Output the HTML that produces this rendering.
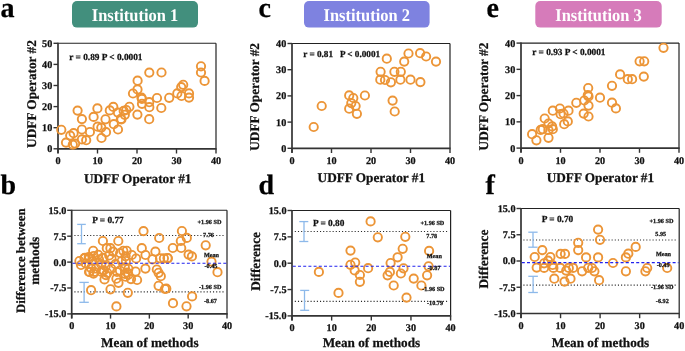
<!DOCTYPE html>
<html><head><meta charset="utf-8"><style>
html,body{margin:0;padding:0;background:#fff;}
svg{display:block;font-family:"Liberation Serif", serif;will-change:transform;text-rendering:geometricPrecision;}
</style></head><body>
<svg width="685" height="351" viewBox="0 0 685 351">
<rect width="685" height="351" fill="#fff"/>
<line x1="58.0" y1="148.8" x2="58.0" y2="153.5" stroke="#333" stroke-width="1.4" />
<line x1="97.5" y1="148.8" x2="97.5" y2="153.5" stroke="#333" stroke-width="1.4" />
<line x1="137.0" y1="148.8" x2="137.0" y2="153.5" stroke="#333" stroke-width="1.4" />
<line x1="176.5" y1="148.8" x2="176.5" y2="153.5" stroke="#333" stroke-width="1.4" />
<line x1="216.0" y1="148.8" x2="216.0" y2="153.5" stroke="#333" stroke-width="1.4" />
<line x1="53.5" y1="148.8" x2="58" y2="148.8" stroke="#333" stroke-width="1.4" />
<line x1="53.5" y1="127.7" x2="58" y2="127.7" stroke="#333" stroke-width="1.4" />
<line x1="53.5" y1="106.6" x2="58" y2="106.6" stroke="#333" stroke-width="1.4" />
<line x1="53.5" y1="85.5" x2="58" y2="85.5" stroke="#333" stroke-width="1.4" />
<line x1="53.5" y1="64.4" x2="58" y2="64.4" stroke="#333" stroke-width="1.4" />
<line x1="53.5" y1="43.3" x2="58" y2="43.3" stroke="#333" stroke-width="1.4" />
<line x1="58" y1="43.3" x2="216" y2="43.3" stroke="#222" stroke-width="1.1" />
<line x1="216" y1="43.3" x2="216" y2="148.8" stroke="#222" stroke-width="1.2" />
<line x1="58" y1="148.8" x2="216.6" y2="148.8" stroke="#333" stroke-width="1.7" />
<line x1="58" y1="42.8" x2="58" y2="153.3" stroke="#333" stroke-width="1.7" />
<text x="58.0" y="164.2" font-size="10.2" text-anchor="middle" fill="#111" stroke="#111" stroke-width="0.25" font-weight="bold" >0</text>
<text x="97.5" y="164.2" font-size="10.2" text-anchor="middle" fill="#111" stroke="#111" stroke-width="0.25" font-weight="bold" >10</text>
<text x="137.0" y="164.2" font-size="10.2" text-anchor="middle" fill="#111" stroke="#111" stroke-width="0.25" font-weight="bold" >20</text>
<text x="176.5" y="164.2" font-size="10.2" text-anchor="middle" fill="#111" stroke="#111" stroke-width="0.25" font-weight="bold" >30</text>
<text x="216.0" y="164.2" font-size="10.2" text-anchor="middle" fill="#111" stroke="#111" stroke-width="0.25" font-weight="bold" >40</text>
<text x="52.3" y="152.2" font-size="10.2" text-anchor="end" fill="#111" stroke="#111" stroke-width="0.25" font-weight="bold" >0</text>
<text x="52.3" y="131.1" font-size="10.2" text-anchor="end" fill="#111" stroke="#111" stroke-width="0.25" font-weight="bold" >10</text>
<text x="52.3" y="110.0" font-size="10.2" text-anchor="end" fill="#111" stroke="#111" stroke-width="0.25" font-weight="bold" >20</text>
<text x="52.3" y="88.9" font-size="10.2" text-anchor="end" fill="#111" stroke="#111" stroke-width="0.25" font-weight="bold" >30</text>
<text x="52.3" y="67.8" font-size="10.2" text-anchor="end" fill="#111" stroke="#111" stroke-width="0.25" font-weight="bold" >40</text>
<text x="52.3" y="46.7" font-size="10.2" text-anchor="end" fill="#111" stroke="#111" stroke-width="0.25" font-weight="bold" >50</text>
<line x1="292.0" y1="148.3" x2="292.0" y2="153.0" stroke="#333" stroke-width="1.4" />
<line x1="331.5" y1="148.3" x2="331.5" y2="153.0" stroke="#333" stroke-width="1.4" />
<line x1="371.0" y1="148.3" x2="371.0" y2="153.0" stroke="#333" stroke-width="1.4" />
<line x1="410.5" y1="148.3" x2="410.5" y2="153.0" stroke="#333" stroke-width="1.4" />
<line x1="450.0" y1="148.3" x2="450.0" y2="153.0" stroke="#333" stroke-width="1.4" />
<line x1="287.5" y1="148.3" x2="292" y2="148.3" stroke="#333" stroke-width="1.4" />
<line x1="287.5" y1="122.1" x2="292" y2="122.1" stroke="#333" stroke-width="1.4" />
<line x1="287.5" y1="95.9" x2="292" y2="95.9" stroke="#333" stroke-width="1.4" />
<line x1="287.5" y1="69.7" x2="292" y2="69.7" stroke="#333" stroke-width="1.4" />
<line x1="287.5" y1="43.5" x2="292" y2="43.5" stroke="#333" stroke-width="1.4" />
<line x1="292" y1="43.5" x2="450" y2="43.5" stroke="#222" stroke-width="1.1" />
<line x1="450" y1="43.5" x2="450" y2="148.3" stroke="#222" stroke-width="1.2" />
<line x1="292" y1="148.3" x2="450.6" y2="148.3" stroke="#333" stroke-width="1.7" />
<line x1="292" y1="43.0" x2="292" y2="152.8" stroke="#333" stroke-width="1.7" />
<text x="292.0" y="164.2" font-size="10.2" text-anchor="middle" fill="#111" stroke="#111" stroke-width="0.25" font-weight="bold" >0</text>
<text x="331.5" y="164.2" font-size="10.2" text-anchor="middle" fill="#111" stroke="#111" stroke-width="0.25" font-weight="bold" >10</text>
<text x="371.0" y="164.2" font-size="10.2" text-anchor="middle" fill="#111" stroke="#111" stroke-width="0.25" font-weight="bold" >20</text>
<text x="410.5" y="164.2" font-size="10.2" text-anchor="middle" fill="#111" stroke="#111" stroke-width="0.25" font-weight="bold" >30</text>
<text x="450.0" y="164.2" font-size="10.2" text-anchor="middle" fill="#111" stroke="#111" stroke-width="0.25" font-weight="bold" >40</text>
<text x="286.3" y="151.7" font-size="10.2" text-anchor="end" fill="#111" stroke="#111" stroke-width="0.25" font-weight="bold" >0</text>
<text x="286.3" y="125.5" font-size="10.2" text-anchor="end" fill="#111" stroke="#111" stroke-width="0.25" font-weight="bold" >10</text>
<text x="286.3" y="99.3" font-size="10.2" text-anchor="end" fill="#111" stroke="#111" stroke-width="0.25" font-weight="bold" >20</text>
<text x="286.3" y="73.1" font-size="10.2" text-anchor="end" fill="#111" stroke="#111" stroke-width="0.25" font-weight="bold" >30</text>
<text x="286.3" y="46.9" font-size="10.2" text-anchor="end" fill="#111" stroke="#111" stroke-width="0.25" font-weight="bold" >40</text>
<line x1="521.0" y1="148.1" x2="521.0" y2="152.8" stroke="#333" stroke-width="1.4" />
<line x1="560.5" y1="148.1" x2="560.5" y2="152.8" stroke="#333" stroke-width="1.4" />
<line x1="600.0" y1="148.1" x2="600.0" y2="152.8" stroke="#333" stroke-width="1.4" />
<line x1="639.5" y1="148.1" x2="639.5" y2="152.8" stroke="#333" stroke-width="1.4" />
<line x1="679.0" y1="148.1" x2="679.0" y2="152.8" stroke="#333" stroke-width="1.4" />
<line x1="516.5" y1="148.1" x2="521" y2="148.1" stroke="#333" stroke-width="1.4" />
<line x1="516.5" y1="121.85" x2="521" y2="121.85" stroke="#333" stroke-width="1.4" />
<line x1="516.5" y1="95.6" x2="521" y2="95.6" stroke="#333" stroke-width="1.4" />
<line x1="516.5" y1="69.35" x2="521" y2="69.35" stroke="#333" stroke-width="1.4" />
<line x1="516.5" y1="43.1" x2="521" y2="43.1" stroke="#333" stroke-width="1.4" />
<line x1="521" y1="43.1" x2="679" y2="43.1" stroke="#222" stroke-width="1.1" />
<line x1="679" y1="43.1" x2="679" y2="148.1" stroke="#222" stroke-width="1.2" />
<line x1="521" y1="148.1" x2="679.6" y2="148.1" stroke="#333" stroke-width="1.7" />
<line x1="521" y1="42.6" x2="521" y2="152.6" stroke="#333" stroke-width="1.7" />
<text x="521.0" y="164.2" font-size="10.2" text-anchor="middle" fill="#111" stroke="#111" stroke-width="0.25" font-weight="bold" >0</text>
<text x="560.5" y="164.2" font-size="10.2" text-anchor="middle" fill="#111" stroke="#111" stroke-width="0.25" font-weight="bold" >10</text>
<text x="600.0" y="164.2" font-size="10.2" text-anchor="middle" fill="#111" stroke="#111" stroke-width="0.25" font-weight="bold" >20</text>
<text x="639.5" y="164.2" font-size="10.2" text-anchor="middle" fill="#111" stroke="#111" stroke-width="0.25" font-weight="bold" >30</text>
<text x="679.0" y="164.2" font-size="10.2" text-anchor="middle" fill="#111" stroke="#111" stroke-width="0.25" font-weight="bold" >40</text>
<text x="515.3" y="151.5" font-size="10.2" text-anchor="end" fill="#111" stroke="#111" stroke-width="0.25" font-weight="bold" >0</text>
<text x="515.3" y="125.25" font-size="10.2" text-anchor="end" fill="#111" stroke="#111" stroke-width="0.25" font-weight="bold" >10</text>
<text x="515.3" y="99.0" font-size="10.2" text-anchor="end" fill="#111" stroke="#111" stroke-width="0.25" font-weight="bold" >20</text>
<text x="515.3" y="72.75" font-size="10.2" text-anchor="end" fill="#111" stroke="#111" stroke-width="0.25" font-weight="bold" >30</text>
<text x="515.3" y="46.5" font-size="10.2" text-anchor="end" fill="#111" stroke="#111" stroke-width="0.25" font-weight="bold" >40</text>
<line x1="71.7" y1="313.9" x2="71.7" y2="318.6" stroke="#333" stroke-width="1.4" />
<line x1="110.53" y1="313.9" x2="110.53" y2="318.6" stroke="#333" stroke-width="1.4" />
<line x1="149.35" y1="313.9" x2="149.35" y2="318.6" stroke="#333" stroke-width="1.4" />
<line x1="188.18" y1="313.9" x2="188.18" y2="318.6" stroke="#333" stroke-width="1.4" />
<line x1="227.0" y1="313.9" x2="227.0" y2="318.6" stroke="#333" stroke-width="1.4" />
<line x1="67.2" y1="313.9" x2="71.7" y2="313.9" stroke="#333" stroke-width="1.4" />
<line x1="67.2" y1="288.0" x2="71.7" y2="288.0" stroke="#333" stroke-width="1.4" />
<line x1="67.2" y1="262.1" x2="71.7" y2="262.1" stroke="#333" stroke-width="1.4" />
<line x1="67.2" y1="236.2" x2="71.7" y2="236.2" stroke="#333" stroke-width="1.4" />
<line x1="67.2" y1="210.3" x2="71.7" y2="210.3" stroke="#333" stroke-width="1.4" />
<line x1="71.7" y1="210.3" x2="227" y2="210.3" stroke="#222" stroke-width="1.1" />
<line x1="227" y1="210.3" x2="227" y2="313.9" stroke="#222" stroke-width="1.2" />
<line x1="71.7" y1="313.9" x2="227.6" y2="313.9" stroke="#333" stroke-width="1.7" />
<line x1="71.7" y1="209.8" x2="71.7" y2="318.4" stroke="#333" stroke-width="1.7" />
<text x="71.7" y="329.2" font-size="10.2" text-anchor="middle" fill="#111" stroke="#111" stroke-width="0.25" font-weight="bold" >0</text>
<text x="110.53" y="329.2" font-size="10.2" text-anchor="middle" fill="#111" stroke="#111" stroke-width="0.25" font-weight="bold" >10</text>
<text x="149.35" y="329.2" font-size="10.2" text-anchor="middle" fill="#111" stroke="#111" stroke-width="0.25" font-weight="bold" >20</text>
<text x="188.18" y="329.2" font-size="10.2" text-anchor="middle" fill="#111" stroke="#111" stroke-width="0.25" font-weight="bold" >30</text>
<text x="227.0" y="329.2" font-size="10.2" text-anchor="middle" fill="#111" stroke="#111" stroke-width="0.25" font-weight="bold" >40</text>
<text x="66.3" y="317.3" font-size="10.2" text-anchor="end" fill="#111" stroke="#111" stroke-width="0.25" font-weight="bold" >-15.0</text>
<text x="66.3" y="291.4" font-size="10.2" text-anchor="end" fill="#111" stroke="#111" stroke-width="0.25" font-weight="bold" >-7.5</text>
<text x="66.3" y="265.5" font-size="10.2" text-anchor="end" fill="#111" stroke="#111" stroke-width="0.25" font-weight="bold" >0.0</text>
<text x="66.3" y="239.6" font-size="10.2" text-anchor="end" fill="#111" stroke="#111" stroke-width="0.25" font-weight="bold" >7.5</text>
<text x="66.3" y="213.7" font-size="10.2" text-anchor="end" fill="#111" stroke="#111" stroke-width="0.25" font-weight="bold" >15.0</text>
<line x1="292.0" y1="315.9" x2="292.0" y2="320.6" stroke="#333" stroke-width="1.4" />
<line x1="331.65" y1="315.9" x2="331.65" y2="320.6" stroke="#333" stroke-width="1.4" />
<line x1="371.3" y1="315.9" x2="371.3" y2="320.6" stroke="#333" stroke-width="1.4" />
<line x1="410.95" y1="315.9" x2="410.95" y2="320.6" stroke="#333" stroke-width="1.4" />
<line x1="450.6" y1="315.9" x2="450.6" y2="320.6" stroke="#333" stroke-width="1.4" />
<line x1="287.5" y1="315.9" x2="292" y2="315.9" stroke="#333" stroke-width="1.4" />
<line x1="287.5" y1="289.55" x2="292" y2="289.55" stroke="#333" stroke-width="1.4" />
<line x1="287.5" y1="263.2" x2="292" y2="263.2" stroke="#333" stroke-width="1.4" />
<line x1="287.5" y1="236.85" x2="292" y2="236.85" stroke="#333" stroke-width="1.4" />
<line x1="287.5" y1="210.5" x2="292" y2="210.5" stroke="#333" stroke-width="1.4" />
<line x1="292" y1="210.5" x2="450.6" y2="210.5" stroke="#222" stroke-width="1.1" />
<line x1="450.6" y1="210.5" x2="450.6" y2="315.9" stroke="#222" stroke-width="1.2" />
<line x1="292" y1="315.9" x2="451.2" y2="315.9" stroke="#333" stroke-width="1.7" />
<line x1="292" y1="210.0" x2="292" y2="320.4" stroke="#333" stroke-width="1.7" />
<text x="292.0" y="331.2" font-size="10.2" text-anchor="middle" fill="#111" stroke="#111" stroke-width="0.25" font-weight="bold" >0</text>
<text x="331.65" y="331.2" font-size="10.2" text-anchor="middle" fill="#111" stroke="#111" stroke-width="0.25" font-weight="bold" >10</text>
<text x="371.3" y="331.2" font-size="10.2" text-anchor="middle" fill="#111" stroke="#111" stroke-width="0.25" font-weight="bold" >20</text>
<text x="410.95" y="331.2" font-size="10.2" text-anchor="middle" fill="#111" stroke="#111" stroke-width="0.25" font-weight="bold" >30</text>
<text x="450.6" y="331.2" font-size="10.2" text-anchor="middle" fill="#111" stroke="#111" stroke-width="0.25" font-weight="bold" >40</text>
<text x="286.5" y="319.3" font-size="10.2" text-anchor="end" fill="#111" stroke="#111" stroke-width="0.25" font-weight="bold" >-15.0</text>
<text x="286.5" y="292.95" font-size="10.2" text-anchor="end" fill="#111" stroke="#111" stroke-width="0.25" font-weight="bold" >-7.5</text>
<text x="286.5" y="266.6" font-size="10.2" text-anchor="end" fill="#111" stroke="#111" stroke-width="0.25" font-weight="bold" >0.0</text>
<text x="286.5" y="240.25" font-size="10.2" text-anchor="end" fill="#111" stroke="#111" stroke-width="0.25" font-weight="bold" >7.5</text>
<text x="286.5" y="213.9" font-size="10.2" text-anchor="end" fill="#111" stroke="#111" stroke-width="0.25" font-weight="bold" >15.0</text>
<line x1="521.0" y1="313.5" x2="521.0" y2="318.2" stroke="#333" stroke-width="1.4" />
<line x1="560.55" y1="313.5" x2="560.55" y2="318.2" stroke="#333" stroke-width="1.4" />
<line x1="600.1" y1="313.5" x2="600.1" y2="318.2" stroke="#333" stroke-width="1.4" />
<line x1="639.65" y1="313.5" x2="639.65" y2="318.2" stroke="#333" stroke-width="1.4" />
<line x1="679.2" y1="313.5" x2="679.2" y2="318.2" stroke="#333" stroke-width="1.4" />
<line x1="516.5" y1="313.5" x2="521" y2="313.5" stroke="#333" stroke-width="1.4" />
<line x1="516.5" y1="287.25" x2="521" y2="287.25" stroke="#333" stroke-width="1.4" />
<line x1="516.5" y1="261.0" x2="521" y2="261.0" stroke="#333" stroke-width="1.4" />
<line x1="516.5" y1="234.75" x2="521" y2="234.75" stroke="#333" stroke-width="1.4" />
<line x1="516.5" y1="208.5" x2="521" y2="208.5" stroke="#333" stroke-width="1.4" />
<line x1="521" y1="208.5" x2="679.2" y2="208.5" stroke="#222" stroke-width="1.1" />
<line x1="679.2" y1="208.5" x2="679.2" y2="313.5" stroke="#222" stroke-width="1.2" />
<line x1="521" y1="313.5" x2="679.8" y2="313.5" stroke="#333" stroke-width="1.7" />
<line x1="521" y1="208.0" x2="521" y2="318.0" stroke="#333" stroke-width="1.7" />
<text x="521.0" y="328.8" font-size="10.2" text-anchor="middle" fill="#111" stroke="#111" stroke-width="0.25" font-weight="bold" >0</text>
<text x="560.55" y="328.8" font-size="10.2" text-anchor="middle" fill="#111" stroke="#111" stroke-width="0.25" font-weight="bold" >10</text>
<text x="600.1" y="328.8" font-size="10.2" text-anchor="middle" fill="#111" stroke="#111" stroke-width="0.25" font-weight="bold" >20</text>
<text x="639.65" y="328.8" font-size="10.2" text-anchor="middle" fill="#111" stroke="#111" stroke-width="0.25" font-weight="bold" >30</text>
<text x="679.2" y="328.8" font-size="10.2" text-anchor="middle" fill="#111" stroke="#111" stroke-width="0.25" font-weight="bold" >40</text>
<text x="515.5" y="316.9" font-size="10.2" text-anchor="end" fill="#111" stroke="#111" stroke-width="0.25" font-weight="bold" >-15.0</text>
<text x="515.5" y="290.65" font-size="10.2" text-anchor="end" fill="#111" stroke="#111" stroke-width="0.25" font-weight="bold" >-7.5</text>
<text x="515.5" y="264.4" font-size="10.2" text-anchor="end" fill="#111" stroke="#111" stroke-width="0.25" font-weight="bold" >0.0</text>
<text x="515.5" y="238.15" font-size="10.2" text-anchor="end" fill="#111" stroke="#111" stroke-width="0.25" font-weight="bold" >7.5</text>
<text x="515.5" y="211.9" font-size="10.2" text-anchor="end" fill="#111" stroke="#111" stroke-width="0.25" font-weight="bold" >15.0</text>
<rect x="72" y="1" width="126" height="26.6" rx="5" fill="#428F7D"/>
<text x="135.0" y="20.8" font-size="17.8" text-anchor="middle" fill="#fff" stroke="#fff" stroke-width="0" font-weight="bold" textLength="86.5" lengthAdjust="spacingAndGlyphs">Institution 1</text>
<rect x="304" y="1" width="125.60000000000002" height="26.6" rx="5" fill="#7E82E0"/>
<text x="366.8" y="20.8" font-size="17.8" text-anchor="middle" fill="#fff" stroke="#fff" stroke-width="0" font-weight="bold" textLength="86.5" lengthAdjust="spacingAndGlyphs">Institution 2</text>
<rect x="535.3" y="1" width="126.40000000000009" height="26.6" rx="5" fill="#D67BBA"/>
<text x="598.5" y="20.8" font-size="17.8" text-anchor="middle" fill="#fff" stroke="#fff" stroke-width="0" font-weight="bold" textLength="86.5" lengthAdjust="spacingAndGlyphs">Institution 3</text>
<text x="0.6" y="16.7" font-size="28" text-anchor="start" fill="#000" stroke="#000" stroke-width="0.25" font-weight="bold" >a</text>
<text x="258.5" y="16.9" font-size="28" text-anchor="start" fill="#000" stroke="#000" stroke-width="0.25" font-weight="bold" >c</text>
<text x="486.5" y="16.9" font-size="28" text-anchor="start" fill="#000" stroke="#000" stroke-width="0.25" font-weight="bold" >e</text>
<text x="0.5" y="193.9" font-size="28" text-anchor="start" fill="#000" stroke="#000" stroke-width="0.25" font-weight="bold" >b</text>
<text x="258.5" y="193.9" font-size="28" text-anchor="start" fill="#000" stroke="#000" stroke-width="0.25" font-weight="bold" >d</text>
<text x="485.5" y="193.9" font-size="28" text-anchor="start" fill="#000" stroke="#000" stroke-width="0.25" font-weight="bold" >f</text>
<text x="137.7" y="182.5" font-size="13.25" text-anchor="middle" fill="#111" stroke="#111" stroke-width="0.25" font-weight="bold" >UDFF Operator #1</text>
<text x="371.3" y="182.2" font-size="13.25" text-anchor="middle" fill="#111" stroke="#111" stroke-width="0.25" font-weight="bold" >UDFF Operator #1</text>
<text x="600.4" y="181.9" font-size="13.25" text-anchor="middle" fill="#111" stroke="#111" stroke-width="0.25" font-weight="bold" >UDFF Operator #1</text>
<text x="149.8" y="346.8" font-size="13.2" text-anchor="middle" fill="#111" stroke="#111" stroke-width="0.25" font-weight="bold" >Mean of methods</text>
<text x="371.4" y="347" font-size="13.2" text-anchor="middle" fill="#111" stroke="#111" stroke-width="0.25" font-weight="bold" >Mean of methods</text>
<text x="600.5" y="346.8" font-size="13.2" text-anchor="middle" fill="#111" stroke="#111" stroke-width="0.25" font-weight="bold" >Mean of methods</text>
<text x="0" y="0" font-size="13.3" text-anchor="middle" font-weight="bold" fill="#111" stroke="#111" stroke-width="0.25" transform="translate(36,94) rotate(-90)">UDFF Operator #2</text>
<text x="0" y="0" font-size="13.3" text-anchor="middle" font-weight="bold" fill="#111" stroke="#111" stroke-width="0.25" transform="translate(258.7,96.9) rotate(-90)">UDFF Operator #2</text>
<text x="0" y="0" font-size="13.3" text-anchor="middle" font-weight="bold" fill="#111" stroke="#111" stroke-width="0.25" transform="translate(488,96.5) rotate(-90)">UDFF Operator #2</text>
<text x="0" y="0" font-size="12.8" text-anchor="middle" font-weight="bold" fill="#111" stroke="#111" stroke-width="0.25" transform="translate(24.8,260.7) rotate(-90)">Difference between</text>
<text x="0" y="0" font-size="13.3" text-anchor="middle" font-weight="bold" fill="#111" stroke="#111" stroke-width="0.25" transform="translate(39,260.8) rotate(-90)">methods</text>
<text x="0" y="0" font-size="13.3" text-anchor="middle" font-weight="bold" fill="#111" stroke="#111" stroke-width="0.25" transform="translate(259.6,261.4) rotate(-90)">Difference</text>
<text x="0" y="0" font-size="13.3" text-anchor="middle" font-weight="bold" fill="#111" stroke="#111" stroke-width="0.25" transform="translate(488,259.1) rotate(-90)">Difference</text>
<text x="69.3" y="60" font-size="9.3" text-anchor="start" fill="#111" stroke="#111" stroke-width="0.25" font-weight="bold" >r = 0.89 P &lt; 0.0001</text>
<text x="303.2" y="57" font-size="9.2" text-anchor="start" fill="#111" stroke="#111" stroke-width="0.25" font-weight="bold" >r = 0.81 &#160; P &lt; 0.0001</text>
<text x="532.3" y="54.5" font-size="9.3" text-anchor="start" fill="#111" stroke="#111" stroke-width="0.25" font-weight="bold" >r = 0.93 P &lt; 0.0001</text>
<line x1="74.4" y1="235.5" x2="225" y2="235.5" stroke="#2a2a2a" stroke-width="1.2" stroke-dasharray="1.1 2.05"/>
<line x1="74.4" y1="291.8" x2="225" y2="291.8" stroke="#2a2a2a" stroke-width="1.2" stroke-dasharray="1.1 2.05"/>
<line x1="81.5" y1="224.4" x2="81.5" y2="243.7" stroke="#8DB9EA" stroke-width="1.3" />
<line x1="77.2" y1="224.4" x2="85.8" y2="224.4" stroke="#8DB9EA" stroke-width="1.3" />
<line x1="77.2" y1="243.7" x2="85.8" y2="243.7" stroke="#8DB9EA" stroke-width="1.3" />
<line x1="84.1" y1="282.4" x2="84.1" y2="302.3" stroke="#8DB9EA" stroke-width="1.3" />
<line x1="79.4" y1="282.4" x2="88.8" y2="282.4" stroke="#8DB9EA" stroke-width="1.3" />
<line x1="79.4" y1="302.3" x2="88.8" y2="302.3" stroke="#8DB9EA" stroke-width="1.3" />
<text x="92.3" y="223.3" font-size="9.3" text-anchor="start" fill="#111" stroke="#111" stroke-width="0.25" font-weight="bold" >P = 0.77</text>
<line x1="294.8" y1="231.5" x2="448" y2="231.5" stroke="#2a2a2a" stroke-width="1.2" stroke-dasharray="1.1 2.05"/>
<line x1="294.8" y1="301.3" x2="448" y2="301.3" stroke="#2a2a2a" stroke-width="1.2" stroke-dasharray="1.1 2.05"/>
<line x1="304" y1="221.6" x2="304" y2="241.5" stroke="#8DB9EA" stroke-width="1.3" />
<line x1="299.3" y1="221.6" x2="308.3" y2="221.6" stroke="#8DB9EA" stroke-width="1.3" />
<line x1="299.3" y1="241.5" x2="308.3" y2="241.5" stroke="#8DB9EA" stroke-width="1.3" />
<line x1="304.5" y1="290.4" x2="304.5" y2="310.3" stroke="#8DB9EA" stroke-width="1.3" />
<line x1="300.2" y1="290.4" x2="309.2" y2="290.4" stroke="#8DB9EA" stroke-width="1.3" />
<line x1="300.2" y1="310.3" x2="309.2" y2="310.3" stroke="#8DB9EA" stroke-width="1.3" />
<text x="313" y="225.8" font-size="9.3" text-anchor="start" fill="#111" stroke="#111" stroke-width="0.25" font-weight="bold" >P = 0.80</text>
<line x1="523.4" y1="240" x2="677" y2="240" stroke="#2a2a2a" stroke-width="1.2" stroke-dasharray="1.1 2.05"/>
<line x1="523.4" y1="285.1" x2="677" y2="285.1" stroke="#2a2a2a" stroke-width="1.2" stroke-dasharray="1.1 2.05"/>
<line x1="533" y1="232.2" x2="533" y2="247.2" stroke="#8DB9EA" stroke-width="1.3" />
<line x1="528.3" y1="232.2" x2="537.6" y2="232.2" stroke="#8DB9EA" stroke-width="1.3" />
<line x1="528.3" y1="247.2" x2="537.6" y2="247.2" stroke="#8DB9EA" stroke-width="1.3" />
<line x1="533.1" y1="276.3" x2="533.1" y2="292.5" stroke="#8DB9EA" stroke-width="1.3" />
<line x1="528.3" y1="276.3" x2="537.9" y2="276.3" stroke="#8DB9EA" stroke-width="1.3" />
<line x1="528.3" y1="292.5" x2="537.9" y2="292.5" stroke="#8DB9EA" stroke-width="1.3" />
<text x="541.8" y="221.8" font-size="9.3" text-anchor="start" fill="#111" stroke="#111" stroke-width="0.25" font-weight="bold" >P = 0.70</text>
<circle cx="61.3" cy="129.8" r="4.15" fill="none" stroke="#EC9537" stroke-width="1.9"/>
<circle cx="66" cy="142.6" r="4.15" fill="none" stroke="#EC9537" stroke-width="1.9"/>
<circle cx="70.2" cy="135.6" r="4.15" fill="none" stroke="#EC9537" stroke-width="1.9"/>
<circle cx="73.6" cy="133.2" r="4.15" fill="none" stroke="#EC9537" stroke-width="1.9"/>
<circle cx="72.8" cy="144.6" r="4.15" fill="none" stroke="#EC9537" stroke-width="1.9"/>
<circle cx="75.1" cy="143.6" r="4.15" fill="none" stroke="#EC9537" stroke-width="1.9"/>
<circle cx="77.6" cy="110.6" r="4.15" fill="none" stroke="#EC9537" stroke-width="1.9"/>
<circle cx="81.9" cy="119.1" r="4.15" fill="none" stroke="#EC9537" stroke-width="1.9"/>
<circle cx="81.9" cy="129.5" r="4.15" fill="none" stroke="#EC9537" stroke-width="1.9"/>
<circle cx="81.9" cy="139.4" r="4.15" fill="none" stroke="#EC9537" stroke-width="1.9"/>
<circle cx="86.2" cy="140.2" r="4.15" fill="none" stroke="#EC9537" stroke-width="1.9"/>
<circle cx="89.9" cy="132" r="4.15" fill="none" stroke="#EC9537" stroke-width="1.9"/>
<circle cx="93.6" cy="116.9" r="4.15" fill="none" stroke="#EC9537" stroke-width="1.9"/>
<circle cx="97.4" cy="108.4" r="4.15" fill="none" stroke="#EC9537" stroke-width="1.9"/>
<circle cx="97.6" cy="126.7" r="4.15" fill="none" stroke="#EC9537" stroke-width="1.9"/>
<circle cx="101.3" cy="127.6" r="4.15" fill="none" stroke="#EC9537" stroke-width="1.9"/>
<circle cx="101.5" cy="138" r="4.15" fill="none" stroke="#EC9537" stroke-width="1.9"/>
<circle cx="105.5" cy="119.3" r="4.15" fill="none" stroke="#EC9537" stroke-width="1.9"/>
<circle cx="106" cy="132.2" r="4.15" fill="none" stroke="#EC9537" stroke-width="1.9"/>
<circle cx="109.8" cy="110.4" r="4.15" fill="none" stroke="#EC9537" stroke-width="1.9"/>
<circle cx="113.3" cy="106.9" r="4.15" fill="none" stroke="#EC9537" stroke-width="1.9"/>
<circle cx="113.8" cy="124.2" r="4.15" fill="none" stroke="#EC9537" stroke-width="1.9"/>
<circle cx="117.9" cy="112.6" r="4.15" fill="none" stroke="#EC9537" stroke-width="1.9"/>
<circle cx="118" cy="129.5" r="4.15" fill="none" stroke="#EC9537" stroke-width="1.9"/>
<circle cx="121.4" cy="119.4" r="4.15" fill="none" stroke="#EC9537" stroke-width="1.9"/>
<circle cx="124.8" cy="114.8" r="4.15" fill="none" stroke="#EC9537" stroke-width="1.9"/>
<circle cx="126.3" cy="110" r="4.15" fill="none" stroke="#EC9537" stroke-width="1.9"/>
<circle cx="129.4" cy="106.8" r="4.15" fill="none" stroke="#EC9537" stroke-width="1.9"/>
<circle cx="123.7" cy="110.9" r="4.15" fill="none" stroke="#EC9537" stroke-width="1.9"/>
<circle cx="120.9" cy="118.9" r="4.15" fill="none" stroke="#EC9537" stroke-width="1.9"/>
<circle cx="133" cy="93.5" r="4.15" fill="none" stroke="#EC9537" stroke-width="1.9"/>
<circle cx="137.5" cy="89.4" r="4.15" fill="none" stroke="#EC9537" stroke-width="1.9"/>
<circle cx="137.6" cy="80.7" r="4.15" fill="none" stroke="#EC9537" stroke-width="1.9"/>
<circle cx="141.5" cy="97.5" r="4.15" fill="none" stroke="#EC9537" stroke-width="1.9"/>
<circle cx="141.9" cy="98.9" r="4.15" fill="none" stroke="#EC9537" stroke-width="1.9"/>
<circle cx="142" cy="103.8" r="4.15" fill="none" stroke="#EC9537" stroke-width="1.9"/>
<circle cx="137.4" cy="114.6" r="4.15" fill="none" stroke="#EC9537" stroke-width="1.9"/>
<circle cx="149.2" cy="102.2" r="4.15" fill="none" stroke="#EC9537" stroke-width="1.9"/>
<circle cx="149.3" cy="107.2" r="4.15" fill="none" stroke="#EC9537" stroke-width="1.9"/>
<circle cx="149.2" cy="119.2" r="4.15" fill="none" stroke="#EC9537" stroke-width="1.9"/>
<circle cx="157" cy="98" r="4.15" fill="none" stroke="#EC9537" stroke-width="1.9"/>
<circle cx="161.3" cy="108" r="4.15" fill="none" stroke="#EC9537" stroke-width="1.9"/>
<circle cx="161.5" cy="72.5" r="4.15" fill="none" stroke="#EC9537" stroke-width="1.9"/>
<circle cx="149.3" cy="72.6" r="4.15" fill="none" stroke="#EC9537" stroke-width="1.9"/>
<circle cx="169.2" cy="97.8" r="4.15" fill="none" stroke="#EC9537" stroke-width="1.9"/>
<circle cx="177.3" cy="93.4" r="4.15" fill="none" stroke="#EC9537" stroke-width="1.9"/>
<circle cx="181.5" cy="96" r="4.15" fill="none" stroke="#EC9537" stroke-width="1.9"/>
<circle cx="181.2" cy="87.1" r="4.15" fill="none" stroke="#EC9537" stroke-width="1.9"/>
<circle cx="183.2" cy="84.8" r="4.15" fill="none" stroke="#EC9537" stroke-width="1.9"/>
<circle cx="189" cy="93.4" r="4.15" fill="none" stroke="#EC9537" stroke-width="1.9"/>
<circle cx="189" cy="97.6" r="4.15" fill="none" stroke="#EC9537" stroke-width="1.9"/>
<circle cx="201" cy="66.3" r="4.15" fill="none" stroke="#EC9537" stroke-width="1.9"/>
<circle cx="201" cy="72.5" r="4.15" fill="none" stroke="#EC9537" stroke-width="1.9"/>
<circle cx="204.6" cy="80.9" r="4.15" fill="none" stroke="#EC9537" stroke-width="1.9"/>
<circle cx="313.7" cy="127" r="4.15" fill="none" stroke="#EC9537" stroke-width="1.9"/>
<circle cx="321.7" cy="106" r="4.15" fill="none" stroke="#EC9537" stroke-width="1.9"/>
<circle cx="349.2" cy="95.4" r="4.15" fill="none" stroke="#EC9537" stroke-width="1.9"/>
<circle cx="353.3" cy="98" r="4.15" fill="none" stroke="#EC9537" stroke-width="1.9"/>
<circle cx="351.3" cy="103.1" r="4.15" fill="none" stroke="#EC9537" stroke-width="1.9"/>
<circle cx="355.6" cy="106" r="4.15" fill="none" stroke="#EC9537" stroke-width="1.9"/>
<circle cx="349.2" cy="108.7" r="4.15" fill="none" stroke="#EC9537" stroke-width="1.9"/>
<circle cx="356.9" cy="113.8" r="4.15" fill="none" stroke="#EC9537" stroke-width="1.9"/>
<circle cx="364.9" cy="95.5" r="4.15" fill="none" stroke="#EC9537" stroke-width="1.9"/>
<circle cx="386.8" cy="58.7" r="4.15" fill="none" stroke="#EC9537" stroke-width="1.9"/>
<circle cx="408.5" cy="53.5" r="4.15" fill="none" stroke="#EC9537" stroke-width="1.9"/>
<circle cx="404.2" cy="61.6" r="4.15" fill="none" stroke="#EC9537" stroke-width="1.9"/>
<circle cx="420.1" cy="53.2" r="4.15" fill="none" stroke="#EC9537" stroke-width="1.9"/>
<circle cx="426.1" cy="56.5" r="4.15" fill="none" stroke="#EC9537" stroke-width="1.9"/>
<circle cx="436" cy="61.6" r="4.15" fill="none" stroke="#EC9537" stroke-width="1.9"/>
<circle cx="380.6" cy="71.8" r="4.15" fill="none" stroke="#EC9537" stroke-width="1.9"/>
<circle cx="394.4" cy="71.8" r="4.15" fill="none" stroke="#EC9537" stroke-width="1.9"/>
<circle cx="400.8" cy="71.8" r="4.15" fill="none" stroke="#EC9537" stroke-width="1.9"/>
<circle cx="380.3" cy="79.7" r="4.15" fill="none" stroke="#EC9537" stroke-width="1.9"/>
<circle cx="385" cy="80" r="4.15" fill="none" stroke="#EC9537" stroke-width="1.9"/>
<circle cx="390.9" cy="82.3" r="4.15" fill="none" stroke="#EC9537" stroke-width="1.9"/>
<circle cx="400.4" cy="79.7" r="4.15" fill="none" stroke="#EC9537" stroke-width="1.9"/>
<circle cx="410.5" cy="79.7" r="4.15" fill="none" stroke="#EC9537" stroke-width="1.9"/>
<circle cx="420.4" cy="82.1" r="4.15" fill="none" stroke="#EC9537" stroke-width="1.9"/>
<circle cx="392.6" cy="100.6" r="4.15" fill="none" stroke="#EC9537" stroke-width="1.9"/>
<circle cx="394.7" cy="111.5" r="4.15" fill="none" stroke="#EC9537" stroke-width="1.9"/>
<circle cx="532.1" cy="134.2" r="4.15" fill="none" stroke="#EC9537" stroke-width="1.9"/>
<circle cx="536.4" cy="140.3" r="4.15" fill="none" stroke="#EC9537" stroke-width="1.9"/>
<circle cx="540.7" cy="129.9" r="4.15" fill="none" stroke="#EC9537" stroke-width="1.9"/>
<circle cx="542.8" cy="129.2" r="4.15" fill="none" stroke="#EC9537" stroke-width="1.9"/>
<circle cx="544.7" cy="118.5" r="4.15" fill="none" stroke="#EC9537" stroke-width="1.9"/>
<circle cx="548.5" cy="123.5" r="4.15" fill="none" stroke="#EC9537" stroke-width="1.9"/>
<circle cx="548.5" cy="130" r="4.15" fill="none" stroke="#EC9537" stroke-width="1.9"/>
<circle cx="548.5" cy="137.8" r="4.15" fill="none" stroke="#EC9537" stroke-width="1.9"/>
<circle cx="552.1" cy="126.4" r="4.15" fill="none" stroke="#EC9537" stroke-width="1.9"/>
<circle cx="552.8" cy="129.2" r="4.15" fill="none" stroke="#EC9537" stroke-width="1.9"/>
<circle cx="552.8" cy="110.7" r="4.15" fill="none" stroke="#EC9537" stroke-width="1.9"/>
<circle cx="559.9" cy="108.5" r="4.15" fill="none" stroke="#EC9537" stroke-width="1.9"/>
<circle cx="560.6" cy="114.2" r="4.15" fill="none" stroke="#EC9537" stroke-width="1.9"/>
<circle cx="563.5" cy="113.5" r="4.15" fill="none" stroke="#EC9537" stroke-width="1.9"/>
<circle cx="568.5" cy="110.7" r="4.15" fill="none" stroke="#EC9537" stroke-width="1.9"/>
<circle cx="564.2" cy="124.2" r="4.15" fill="none" stroke="#EC9537" stroke-width="1.9"/>
<circle cx="567.8" cy="121.4" r="4.15" fill="none" stroke="#EC9537" stroke-width="1.9"/>
<circle cx="576.3" cy="102.8" r="4.15" fill="none" stroke="#EC9537" stroke-width="1.9"/>
<circle cx="584.3" cy="100.5" r="4.15" fill="none" stroke="#EC9537" stroke-width="1.9"/>
<circle cx="588.2" cy="88" r="4.15" fill="none" stroke="#EC9537" stroke-width="1.9"/>
<circle cx="587.8" cy="95.1" r="4.15" fill="none" stroke="#EC9537" stroke-width="1.9"/>
<circle cx="588.5" cy="96.4" r="4.15" fill="none" stroke="#EC9537" stroke-width="1.9"/>
<circle cx="588.5" cy="105.6" r="4.15" fill="none" stroke="#EC9537" stroke-width="1.9"/>
<circle cx="583.7" cy="113.6" r="4.15" fill="none" stroke="#EC9537" stroke-width="1.9"/>
<circle cx="588.5" cy="116.5" r="4.15" fill="none" stroke="#EC9537" stroke-width="1.9"/>
<circle cx="600" cy="97.7" r="4.15" fill="none" stroke="#EC9537" stroke-width="1.9"/>
<circle cx="612" cy="85.8" r="4.15" fill="none" stroke="#EC9537" stroke-width="1.9"/>
<circle cx="612" cy="102.7" r="4.15" fill="none" stroke="#EC9537" stroke-width="1.9"/>
<circle cx="615.9" cy="108.4" r="4.15" fill="none" stroke="#EC9537" stroke-width="1.9"/>
<circle cx="620.1" cy="74.4" r="4.15" fill="none" stroke="#EC9537" stroke-width="1.9"/>
<circle cx="627.8" cy="79.2" r="4.15" fill="none" stroke="#EC9537" stroke-width="1.9"/>
<circle cx="632.1" cy="79.2" r="4.15" fill="none" stroke="#EC9537" stroke-width="1.9"/>
<circle cx="643.8" cy="76.6" r="4.15" fill="none" stroke="#EC9537" stroke-width="1.9"/>
<circle cx="639.6" cy="61.3" r="4.15" fill="none" stroke="#EC9537" stroke-width="1.9"/>
<circle cx="644.2" cy="61.3" r="4.15" fill="none" stroke="#EC9537" stroke-width="1.9"/>
<circle cx="663.5" cy="47.8" r="4.15" fill="none" stroke="#EC9537" stroke-width="1.9"/>
<circle cx="102.9" cy="241" r="4.15" fill="none" stroke="#EC9537" stroke-width="1.9"/>
<circle cx="118.3" cy="241" r="4.15" fill="none" stroke="#EC9537" stroke-width="1.9"/>
<circle cx="93.2" cy="250.8" r="4.15" fill="none" stroke="#EC9537" stroke-width="1.9"/>
<circle cx="106.8" cy="248.2" r="4.15" fill="none" stroke="#EC9537" stroke-width="1.9"/>
<circle cx="110.4" cy="248.2" r="4.15" fill="none" stroke="#EC9537" stroke-width="1.9"/>
<circle cx="123.3" cy="250.8" r="4.15" fill="none" stroke="#EC9537" stroke-width="1.9"/>
<circle cx="84.9" cy="257.9" r="4.15" fill="none" stroke="#EC9537" stroke-width="1.9"/>
<circle cx="88.8" cy="257.1" r="4.15" fill="none" stroke="#EC9537" stroke-width="1.9"/>
<circle cx="81" cy="265" r="4.15" fill="none" stroke="#EC9537" stroke-width="1.9"/>
<circle cx="85.7" cy="263.4" r="4.15" fill="none" stroke="#EC9537" stroke-width="1.9"/>
<circle cx="92.7" cy="261" r="4.15" fill="none" stroke="#EC9537" stroke-width="1.9"/>
<circle cx="91.1" cy="268.1" r="4.15" fill="none" stroke="#EC9537" stroke-width="1.9"/>
<circle cx="89.6" cy="272" r="4.15" fill="none" stroke="#EC9537" stroke-width="1.9"/>
<circle cx="93.5" cy="273.6" r="4.15" fill="none" stroke="#EC9537" stroke-width="1.9"/>
<circle cx="99" cy="259.5" r="4.15" fill="none" stroke="#EC9537" stroke-width="1.9"/>
<circle cx="102.9" cy="257.9" r="4.15" fill="none" stroke="#EC9537" stroke-width="1.9"/>
<circle cx="101.3" cy="264.2" r="4.15" fill="none" stroke="#EC9537" stroke-width="1.9"/>
<circle cx="103.7" cy="270.4" r="4.15" fill="none" stroke="#EC9537" stroke-width="1.9"/>
<circle cx="106" cy="275.1" r="4.15" fill="none" stroke="#EC9537" stroke-width="1.9"/>
<circle cx="109.2" cy="255.5" r="4.15" fill="none" stroke="#EC9537" stroke-width="1.9"/>
<circle cx="111.5" cy="258.7" r="4.15" fill="none" stroke="#EC9537" stroke-width="1.9"/>
<circle cx="113.1" cy="251.6" r="4.15" fill="none" stroke="#EC9537" stroke-width="1.9"/>
<circle cx="115.4" cy="264.2" r="4.15" fill="none" stroke="#EC9537" stroke-width="1.9"/>
<circle cx="117" cy="272" r="4.15" fill="none" stroke="#EC9537" stroke-width="1.9"/>
<circle cx="120.1" cy="253.2" r="4.15" fill="none" stroke="#EC9537" stroke-width="1.9"/>
<circle cx="121.7" cy="261" r="4.15" fill="none" stroke="#EC9537" stroke-width="1.9"/>
<circle cx="125.6" cy="256.3" r="4.15" fill="none" stroke="#EC9537" stroke-width="1.9"/>
<circle cx="124.8" cy="267.3" r="4.15" fill="none" stroke="#EC9537" stroke-width="1.9"/>
<circle cx="125.6" cy="276.7" r="4.15" fill="none" stroke="#EC9537" stroke-width="1.9"/>
<circle cx="79.4" cy="261" r="4.15" fill="none" stroke="#EC9537" stroke-width="1.9"/>
<circle cx="91.1" cy="290.2" r="4.15" fill="none" stroke="#EC9537" stroke-width="1.9"/>
<circle cx="104.5" cy="279.4" r="4.15" fill="none" stroke="#EC9537" stroke-width="1.9"/>
<circle cx="110.5" cy="289.3" r="4.15" fill="none" stroke="#EC9537" stroke-width="1.9"/>
<circle cx="116.4" cy="278.7" r="4.15" fill="none" stroke="#EC9537" stroke-width="1.9"/>
<circle cx="118.5" cy="282.8" r="4.15" fill="none" stroke="#EC9537" stroke-width="1.9"/>
<circle cx="116.4" cy="306.4" r="4.15" fill="none" stroke="#EC9537" stroke-width="1.9"/>
<circle cx="127.8" cy="292.8" r="4.15" fill="none" stroke="#EC9537" stroke-width="1.9"/>
<circle cx="131" cy="279.1" r="4.15" fill="none" stroke="#EC9537" stroke-width="1.9"/>
<circle cx="89.1" cy="271.9" r="4.15" fill="none" stroke="#EC9537" stroke-width="1.9"/>
<circle cx="94.2" cy="271.9" r="4.15" fill="none" stroke="#EC9537" stroke-width="1.9"/>
<circle cx="102.8" cy="270.5" r="4.15" fill="none" stroke="#EC9537" stroke-width="1.9"/>
<circle cx="111.3" cy="268.8" r="4.15" fill="none" stroke="#EC9537" stroke-width="1.9"/>
<circle cx="119.9" cy="270.5" r="4.15" fill="none" stroke="#EC9537" stroke-width="1.9"/>
<circle cx="125" cy="273.9" r="4.15" fill="none" stroke="#EC9537" stroke-width="1.9"/>
<circle cx="128.4" cy="268.8" r="4.15" fill="none" stroke="#EC9537" stroke-width="1.9"/>
<circle cx="143.5" cy="231.1" r="4.15" fill="none" stroke="#EC9537" stroke-width="1.9"/>
<circle cx="159.2" cy="238" r="4.15" fill="none" stroke="#EC9537" stroke-width="1.9"/>
<circle cx="141.8" cy="248.2" r="4.15" fill="none" stroke="#EC9537" stroke-width="1.9"/>
<circle cx="155.4" cy="251.6" r="4.15" fill="none" stroke="#EC9537" stroke-width="1.9"/>
<circle cx="145.5" cy="255" r="4.15" fill="none" stroke="#EC9537" stroke-width="1.9"/>
<circle cx="172.8" cy="248" r="4.15" fill="none" stroke="#EC9537" stroke-width="1.9"/>
<circle cx="181.2" cy="248" r="4.15" fill="none" stroke="#EC9537" stroke-width="1.9"/>
<circle cx="181.9" cy="231" r="4.15" fill="none" stroke="#EC9537" stroke-width="1.9"/>
<circle cx="180.8" cy="241" r="4.15" fill="none" stroke="#EC9537" stroke-width="1.9"/>
<circle cx="160" cy="258.3" r="4.15" fill="none" stroke="#EC9537" stroke-width="1.9"/>
<circle cx="163.9" cy="258.3" r="4.15" fill="none" stroke="#EC9537" stroke-width="1.9"/>
<circle cx="167.8" cy="258.3" r="4.15" fill="none" stroke="#EC9537" stroke-width="1.9"/>
<circle cx="152.4" cy="259.3" r="4.15" fill="none" stroke="#EC9537" stroke-width="1.9"/>
<circle cx="145.4" cy="268.6" r="4.15" fill="none" stroke="#EC9537" stroke-width="1.9"/>
<circle cx="156.8" cy="269.5" r="4.15" fill="none" stroke="#EC9537" stroke-width="1.9"/>
<circle cx="158.6" cy="272.8" r="4.15" fill="none" stroke="#EC9537" stroke-width="1.9"/>
<circle cx="160.8" cy="276.2" r="4.15" fill="none" stroke="#EC9537" stroke-width="1.9"/>
<circle cx="136.1" cy="258.5" r="4.15" fill="none" stroke="#EC9537" stroke-width="1.9"/>
<circle cx="131.8" cy="255" r="4.15" fill="none" stroke="#EC9537" stroke-width="1.9"/>
<circle cx="126.7" cy="250.8" r="4.15" fill="none" stroke="#EC9537" stroke-width="1.9"/>
<circle cx="125.9" cy="261" r="4.15" fill="none" stroke="#EC9537" stroke-width="1.9"/>
<circle cx="135.6" cy="271.5" r="4.15" fill="none" stroke="#EC9537" stroke-width="1.9"/>
<circle cx="128.4" cy="274.7" r="4.15" fill="none" stroke="#EC9537" stroke-width="1.9"/>
<circle cx="137.1" cy="280" r="4.15" fill="none" stroke="#EC9537" stroke-width="1.9"/>
<circle cx="186.8" cy="237.9" r="4.15" fill="none" stroke="#EC9537" stroke-width="1.9"/>
<circle cx="188.6" cy="254.6" r="4.15" fill="none" stroke="#EC9537" stroke-width="1.9"/>
<circle cx="191.9" cy="256.4" r="4.15" fill="none" stroke="#EC9537" stroke-width="1.9"/>
<circle cx="205.7" cy="245.3" r="4.15" fill="none" stroke="#EC9537" stroke-width="1.9"/>
<circle cx="211.5" cy="261.6" r="4.15" fill="none" stroke="#EC9537" stroke-width="1.9"/>
<circle cx="217.5" cy="272.2" r="4.15" fill="none" stroke="#EC9537" stroke-width="1.9"/>
<circle cx="167.6" cy="258" r="4.15" fill="none" stroke="#EC9537" stroke-width="1.9"/>
<circle cx="166.3" cy="288.7" r="4.15" fill="none" stroke="#EC9537" stroke-width="1.9"/>
<circle cx="192.1" cy="296.4" r="4.15" fill="none" stroke="#EC9537" stroke-width="1.9"/>
<circle cx="173" cy="303.2" r="4.15" fill="none" stroke="#EC9537" stroke-width="1.9"/>
<circle cx="186.5" cy="306.3" r="4.15" fill="none" stroke="#EC9537" stroke-width="1.9"/>
<circle cx="127.3" cy="272.5" r="4.15" fill="none" stroke="#EC9537" stroke-width="1.9"/>
<circle cx="158.6" cy="285.8" r="4.15" fill="none" stroke="#EC9537" stroke-width="1.9"/>
<circle cx="164.9" cy="289" r="4.15" fill="none" stroke="#EC9537" stroke-width="1.9"/>
<circle cx="84.5" cy="258.2" r="4.15" fill="none" stroke="#EC9537" stroke-width="1.9"/>
<circle cx="89.1" cy="258.8" r="4.15" fill="none" stroke="#EC9537" stroke-width="1.9"/>
<circle cx="95.9" cy="268.5" r="4.15" fill="none" stroke="#EC9537" stroke-width="1.9"/>
<circle cx="101.6" cy="271.9" r="4.15" fill="none" stroke="#EC9537" stroke-width="1.9"/>
<circle cx="105.6" cy="266.2" r="4.15" fill="none" stroke="#EC9537" stroke-width="1.9"/>
<circle cx="107.3" cy="273" r="4.15" fill="none" stroke="#EC9537" stroke-width="1.9"/>
<circle cx="98.2" cy="254.8" r="4.15" fill="none" stroke="#EC9537" stroke-width="1.9"/>
<circle cx="93.7" cy="256" r="4.15" fill="none" stroke="#EC9537" stroke-width="1.9"/>
<circle cx="318.9" cy="271.9" r="4.15" fill="none" stroke="#EC9537" stroke-width="1.9"/>
<circle cx="350.5" cy="250.6" r="4.15" fill="none" stroke="#EC9537" stroke-width="1.9"/>
<circle cx="350.5" cy="264.8" r="4.15" fill="none" stroke="#EC9537" stroke-width="1.9"/>
<circle cx="355.2" cy="262.5" r="4.15" fill="none" stroke="#EC9537" stroke-width="1.9"/>
<circle cx="354.7" cy="270.4" r="4.15" fill="none" stroke="#EC9537" stroke-width="1.9"/>
<circle cx="359.9" cy="275" r="4.15" fill="none" stroke="#EC9537" stroke-width="1.9"/>
<circle cx="359.9" cy="281.8" r="4.15" fill="none" stroke="#EC9537" stroke-width="1.9"/>
<circle cx="368.1" cy="268.2" r="4.15" fill="none" stroke="#EC9537" stroke-width="1.9"/>
<circle cx="338.5" cy="292.9" r="4.15" fill="none" stroke="#EC9537" stroke-width="1.9"/>
<circle cx="370.6" cy="221.4" r="4.15" fill="none" stroke="#EC9537" stroke-width="1.9"/>
<circle cx="377.8" cy="237.3" r="4.15" fill="none" stroke="#EC9537" stroke-width="1.9"/>
<circle cx="405.3" cy="236.8" r="4.15" fill="none" stroke="#EC9537" stroke-width="1.9"/>
<circle cx="402.7" cy="248.8" r="4.15" fill="none" stroke="#EC9537" stroke-width="1.9"/>
<circle cx="429.1" cy="250.9" r="4.15" fill="none" stroke="#EC9537" stroke-width="1.9"/>
<circle cx="397.6" cy="257.3" r="4.15" fill="none" stroke="#EC9537" stroke-width="1.9"/>
<circle cx="390.6" cy="263" r="4.15" fill="none" stroke="#EC9537" stroke-width="1.9"/>
<circle cx="403.5" cy="268.3" r="4.15" fill="none" stroke="#EC9537" stroke-width="1.9"/>
<circle cx="389.9" cy="271.9" r="4.15" fill="none" stroke="#EC9537" stroke-width="1.9"/>
<circle cx="387.6" cy="275.3" r="4.15" fill="none" stroke="#EC9537" stroke-width="1.9"/>
<circle cx="400.9" cy="273.5" r="4.15" fill="none" stroke="#EC9537" stroke-width="1.9"/>
<circle cx="428.6" cy="266.3" r="4.15" fill="none" stroke="#EC9537" stroke-width="1.9"/>
<circle cx="427.1" cy="275.3" r="4.15" fill="none" stroke="#EC9537" stroke-width="1.9"/>
<circle cx="413.7" cy="278.6" r="4.15" fill="none" stroke="#EC9537" stroke-width="1.9"/>
<circle cx="421.4" cy="285.5" r="4.15" fill="none" stroke="#EC9537" stroke-width="1.9"/>
<circle cx="393.7" cy="285.5" r="4.15" fill="none" stroke="#EC9537" stroke-width="1.9"/>
<circle cx="406.5" cy="297.6" r="4.15" fill="none" stroke="#EC9537" stroke-width="1.9"/>
<circle cx="534.7" cy="257" r="4.15" fill="none" stroke="#EC9537" stroke-width="1.9"/>
<circle cx="542.3" cy="250.1" r="4.15" fill="none" stroke="#EC9537" stroke-width="1.9"/>
<circle cx="536.7" cy="267.6" r="4.15" fill="none" stroke="#EC9537" stroke-width="1.9"/>
<circle cx="544.1" cy="263.3" r="4.15" fill="none" stroke="#EC9537" stroke-width="1.9"/>
<circle cx="544.1" cy="267.9" r="4.15" fill="none" stroke="#EC9537" stroke-width="1.9"/>
<circle cx="548" cy="260.7" r="4.15" fill="none" stroke="#EC9537" stroke-width="1.9"/>
<circle cx="550.4" cy="257" r="4.15" fill="none" stroke="#EC9537" stroke-width="1.9"/>
<circle cx="552.6" cy="265" r="4.15" fill="none" stroke="#EC9537" stroke-width="1.9"/>
<circle cx="553.4" cy="267.9" r="4.15" fill="none" stroke="#EC9537" stroke-width="1.9"/>
<circle cx="560.6" cy="253.9" r="4.15" fill="none" stroke="#EC9537" stroke-width="1.9"/>
<circle cx="565" cy="253.9" r="4.15" fill="none" stroke="#EC9537" stroke-width="1.9"/>
<circle cx="560.3" cy="267.9" r="4.15" fill="none" stroke="#EC9537" stroke-width="1.9"/>
<circle cx="566.2" cy="270.6" r="4.15" fill="none" stroke="#EC9537" stroke-width="1.9"/>
<circle cx="568.8" cy="267.9" r="4.15" fill="none" stroke="#EC9537" stroke-width="1.9"/>
<circle cx="573.1" cy="267.9" r="4.15" fill="none" stroke="#EC9537" stroke-width="1.9"/>
<circle cx="554.3" cy="278.7" r="4.15" fill="none" stroke="#EC9537" stroke-width="1.9"/>
<circle cx="564.5" cy="281.6" r="4.15" fill="none" stroke="#EC9537" stroke-width="1.9"/>
<circle cx="570.5" cy="278.7" r="4.15" fill="none" stroke="#EC9537" stroke-width="1.9"/>
<circle cx="578.2" cy="242.8" r="4.15" fill="none" stroke="#EC9537" stroke-width="1.9"/>
<circle cx="578.2" cy="250.1" r="4.15" fill="none" stroke="#EC9537" stroke-width="1.9"/>
<circle cx="582.1" cy="271.3" r="4.15" fill="none" stroke="#EC9537" stroke-width="1.9"/>
<circle cx="586.1" cy="257.4" r="4.15" fill="none" stroke="#EC9537" stroke-width="1.9"/>
<circle cx="588.2" cy="267.8" r="4.15" fill="none" stroke="#EC9537" stroke-width="1.9"/>
<circle cx="592" cy="268" r="4.15" fill="none" stroke="#EC9537" stroke-width="1.9"/>
<circle cx="594.4" cy="271.3" r="4.15" fill="none" stroke="#EC9537" stroke-width="1.9"/>
<circle cx="598.1" cy="229.6" r="4.15" fill="none" stroke="#EC9537" stroke-width="1.9"/>
<circle cx="600" cy="239.8" r="4.15" fill="none" stroke="#EC9537" stroke-width="1.9"/>
<circle cx="598.1" cy="257.4" r="4.15" fill="none" stroke="#EC9537" stroke-width="1.9"/>
<circle cx="599.1" cy="280.2" r="4.15" fill="none" stroke="#EC9537" stroke-width="1.9"/>
<circle cx="613" cy="263" r="4.15" fill="none" stroke="#EC9537" stroke-width="1.9"/>
<circle cx="628.3" cy="253.7" r="4.15" fill="none" stroke="#EC9537" stroke-width="1.9"/>
<circle cx="625.9" cy="257.4" r="4.15" fill="none" stroke="#EC9537" stroke-width="1.9"/>
<circle cx="635.7" cy="246.9" r="4.15" fill="none" stroke="#EC9537" stroke-width="1.9"/>
<circle cx="625.9" cy="271.3" r="4.15" fill="none" stroke="#EC9537" stroke-width="1.9"/>
<circle cx="647.2" cy="268" r="4.15" fill="none" stroke="#EC9537" stroke-width="1.9"/>
<circle cx="645.4" cy="271.3" r="4.15" fill="none" stroke="#EC9537" stroke-width="1.9"/>
<circle cx="667.2" cy="268" r="4.15" fill="none" stroke="#EC9537" stroke-width="1.9"/>
<line x1="72.5" y1="263.2" x2="226.5" y2="263.2" stroke="#2222ee" stroke-width="1.1" stroke-dasharray="3.0 2.2"/>
<line x1="292.8" y1="266.2" x2="450" y2="266.2" stroke="#2222ee" stroke-width="1.1" stroke-dasharray="3.0 2.2"/>
<line x1="521.8" y1="262.6" x2="678.5" y2="262.6" stroke="#2222ee" stroke-width="1.1" stroke-dasharray="3.0 2.2"/>
<text x="209.5" y="224.1" font-size="6.2" text-anchor="middle" fill="#111" stroke="#111" stroke-width="0.25" font-weight="bold" >+1.96 SD</text>
<text x="208.5" y="237.2" font-size="6.2" text-anchor="middle" fill="#111" stroke="#111" stroke-width="0.25" font-weight="bold" >7.76</text>
<text x="211.5" y="256.8" font-size="6.2" text-anchor="middle" fill="#111" stroke="#111" stroke-width="0.25" font-weight="bold" >Mean</text>
<text x="211" y="268.4" font-size="6.2" text-anchor="middle" fill="#111" stroke="#111" stroke-width="0.25" font-weight="bold" >-0.45</text>
<text x="210.2" y="289.3" font-size="6.2" text-anchor="middle" fill="#111" stroke="#111" stroke-width="0.25" font-weight="bold" >-1.96 SD</text>
<text x="210.5" y="303.3" font-size="6.2" text-anchor="middle" fill="#111" stroke="#111" stroke-width="0.25" font-weight="bold" >-8.67</text>
<text x="432.4" y="224.5" font-size="6.2" text-anchor="middle" fill="#111" stroke="#111" stroke-width="0.25" font-weight="bold" >+1.96 SD</text>
<text x="431.7" y="238.4" font-size="6.2" text-anchor="middle" fill="#111" stroke="#111" stroke-width="0.25" font-weight="bold" >7.78</text>
<text x="434.3" y="258" font-size="6.2" text-anchor="middle" fill="#111" stroke="#111" stroke-width="0.25" font-weight="bold" >Mean</text>
<text x="434" y="270" font-size="6.2" text-anchor="middle" fill="#111" stroke="#111" stroke-width="0.25" font-weight="bold" >-0.87</text>
<text x="433.4" y="290.9" font-size="6.2" text-anchor="middle" fill="#111" stroke="#111" stroke-width="0.25" font-weight="bold" >-1.96 SD</text>
<text x="435" y="305" font-size="6.2" text-anchor="middle" fill="#111" stroke="#111" stroke-width="0.25" font-weight="bold" >-10.79</text>
<text x="661.5" y="222.5" font-size="6.2" text-anchor="middle" fill="#111" stroke="#111" stroke-width="0.25" font-weight="bold" >+1.96 SD</text>
<text x="660.7" y="236.2" font-size="6.2" text-anchor="middle" fill="#111" stroke="#111" stroke-width="0.25" font-weight="bold" >5.95</text>
<text x="663.5" y="256.2" font-size="6.2" text-anchor="middle" fill="#111" stroke="#111" stroke-width="0.25" font-weight="bold" >Mean</text>
<text x="663.1" y="267.3" font-size="6.2" text-anchor="middle" fill="#111" stroke="#111" stroke-width="0.25" font-weight="bold" >-0.49</text>
<text x="662.2" y="289.1" font-size="6.2" text-anchor="middle" fill="#111" stroke="#111" stroke-width="0.25" font-weight="bold" >-1.96 SD</text>
<text x="662.3" y="302.5" font-size="6.2" text-anchor="middle" fill="#111" stroke="#111" stroke-width="0.25" font-weight="bold" >-6.92</text>
</svg>
</body></html>
